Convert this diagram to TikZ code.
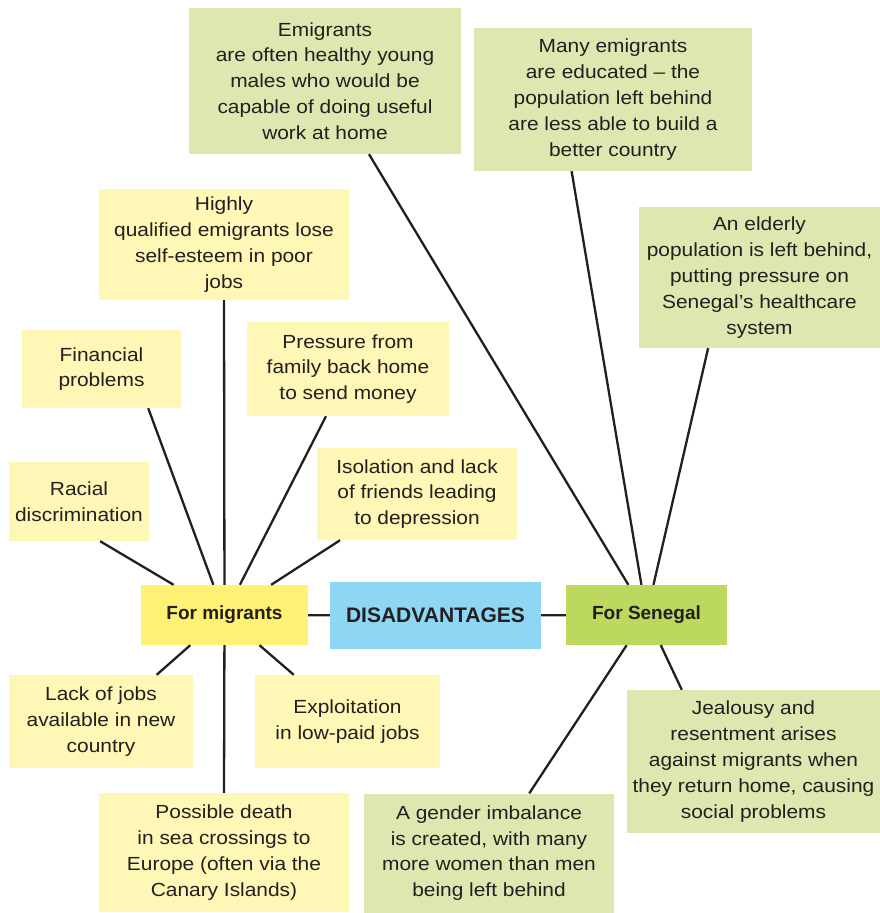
\documentclass[tikz,border=0pt]{standalone}
\usepackage{fontspec}
\setmainfont{Liberation Sans}
\newfontfamily\bodyfont[FakeStretch=1.1,Ligatures=TeX]{Liberation Sans}
\definecolor{ink}{HTML}{231F20}
\definecolor{lyel}{HTML}{FFF7B5}
\definecolor{yel}{HTML}{FFF173}
\definecolor{lgreen}{HTML}{DCE8AF}
\definecolor{green}{HTML}{BDD85E}
\definecolor{blue}{HTML}{8DD7F5}
\begin{document}
\begin{tikzpicture}[x=1pt,y=-1pt,
  box/.style={inner sep=0pt, align=center, font=\bodyfont\fontsize{19}{25.8}\selectfont, text=ink},
  yb/.style={box, fill=lyel},
  gb/.style={box, fill=lgreen},
  hub/.style={box, font=\fontsize{19}{22}\selectfont\bfseries},
  link/.style={draw=ink, line width=2.3pt}]
\useasboundingbox (0,0) rectangle (880,913);

\node[gb, minimum width=272pt, minimum height=146pt] (em) at (325,81)
  {Emigrants\\are often healthy young\\males who would be\\capable of doing useful\\work at home};
\node[gb, minimum width=278pt, minimum height=143pt] (many) at (613,99.5)
  {Many emigrants\\are educated – the\\population left behind\\are less able to build a\\better country};
\node[gb, minimum width=241pt, minimum height=141pt] (eld) at (759.5,277.5)
  {An elderly\\population is left behind,\\putting pressure on\\Senegal’s healthcare\\system};
\node[yb, minimum width=250pt, minimum height=111pt] (high) at (224,244.5)
  {Highly\\qualified emigrants lose\\self-esteem in poor\\jobs};
\node[yb, minimum width=159pt, minimum height=78pt] (fin) at (101.5,369)
  {Financial\\problems};
\node[yb, minimum width=202pt, minimum height=94pt] (pres) at (348,369)
  {Pressure from\\family back home\\to send money};
\node[yb, minimum width=140pt, minimum height=79pt] (rac) at (79,501.5)
  {Racial\\discrimination};
\node[yb, minimum width=200pt, minimum height=92pt] (iso) at (417,494)
  {Isolation and lack\\of friends leading\\to depression};

\node[hub, fill=yel, minimum width=167pt, minimum height=60pt] (mig) at (224.5,615) {For migrants};
\node[hub, fill=blue, minimum width=211pt, minimum height=67pt, font=\fontsize{21}{25}\selectfont\bfseries] (dis) at (435.5,615.5) {DISADVANTAGES};
\node[hub, fill=green, minimum width=161pt, minimum height=60pt] (sen) at (646.5,615) {For Senegal};

\node[yb, minimum width=184pt, minimum height=93pt] (lack) at (101,721.5)
  {Lack of jobs\\available in new\\country};
\node[yb, minimum width=185pt, minimum height=93pt] (expl) at (347.5,721.5)
  {Exploitation\\in low-paid jobs};
\node[yb, minimum width=250pt, minimum height=119pt] (death) at (224,852.5)
  {Possible death\\in sea crossings to\\Europe (often via the\\Canary Islands)};
\node[gb, minimum width=250pt, minimum height=119pt] (gen) at (489,853)
  {A gender imbalance\\is created, with many\\more women than men\\being left behind};
\node[gb, minimum width=253pt, minimum height=143pt] (jeal) at (753.5,761.5)
  {Jealousy and\\resentment arises\\against migrants when\\they return home, causing\\social problems};

\draw[link] (mig) -- (dis);
\draw[link] (dis) -- (sen);

\draw[link] (high.-90) -- (mig);
\draw[link] (fin.-40) -- (mig);
\draw[link] (pres.-115) -- (mig);
\draw[link] (rac.-62) -- (mig);
\draw[link] (iso.-149) -- (mig);
\draw[link] (lack.40) -- (mig);
\draw[link] (expl.139) -- (mig);
\draw[link] (death.90) -- (mig);

\draw[link] (em.-59) -- (sen);
\draw[link] (many.-120) -- (sen);
\draw[link] (eld.-126) -- (sen);
\draw[link] (gen.56) -- (sen);
\draw[link] (jeal.135) -- (sen);
\end{tikzpicture}
\end{document}
